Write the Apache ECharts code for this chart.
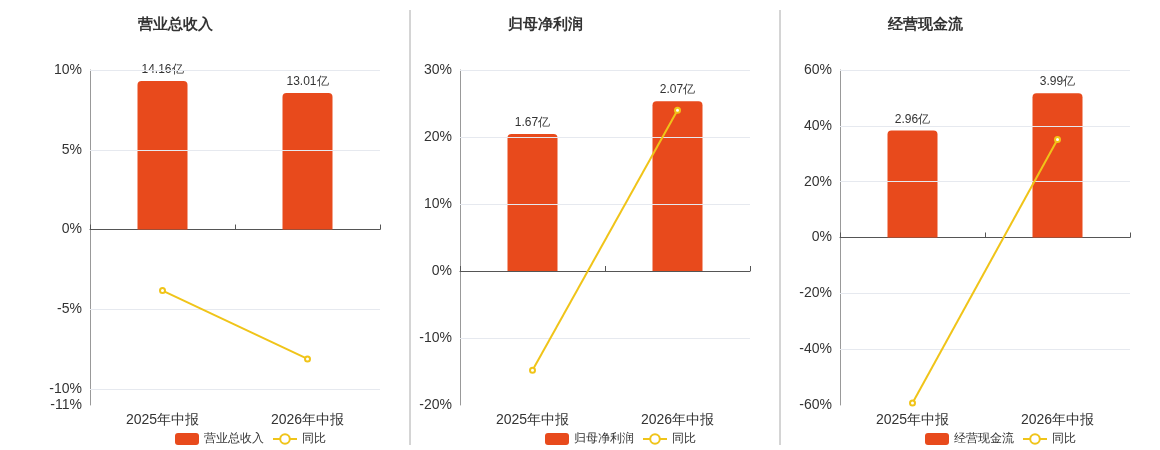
<!DOCTYPE html><html><head><meta charset="utf-8"><script src="https://cdn.jsdelivr.net/npm/echarts@6/dist/echarts.min.js"></script></head><body style="margin:0"><div id="c" style="width:1160px;height:450px"></div><script>
const categories=['2025年中报','2026年中报'];
const titles=['营业总收入','归母净利润','经营现金流'];
const barValues=[[14.16,13.01],[1.67,2.07],[2.96,3.99]];
const yoyValues=[[-3.83,-8.11],[-14.8,24.0],[-59.3,35.1]];
const pctMin=[-11,-20,-60], pctMax=[10,30,60], pctStep=[5,10,20];
const pctLabels=[[-11,-10,-5,0,5,10],[-20,-10,0,10,20,30],[-60,-40,-20,0,20,40,60]];
const barTopAt=[15.2,2.45,4.63];
const lefts=[90,460,840];
const grid=[],xAxis=[],yAxis=[],series=[],title=[],legend=[];
for(let i=0;i<3;i++){
 grid.push({left:lefts[i],width:290,top:70,height:335});
 title.push({text:titles[i],left:lefts[i]-90+170,top:12,textAlign:'center',textStyle:{fontSize:15,fontWeight:'bold',color:'#333'}});
 xAxis.push({type:'category',gridIndex:i,data:categories,axisLine:{onZero:false,show:false},axisTick:{show:false},axisLabel:{fontSize:14,color:'#333',margin:8}});
 xAxis.push({type:'category',gridIndex:i,data:categories,axisLine:{onZero:true,onZeroAxisIndex:i*2,lineStyle:{color:'#555'}},axisTick:{show:true,lineStyle:{color:'#555'}},axisLabel:{show:false}});
 const gl=pctLabels[i].filter(v=>v!==0&&v!==pctMin[i]);
 yAxis.push({type:'value',gridIndex:i,min:pctMin[i],max:pctMax[i],
  axisLine:{show:true,lineStyle:{color:'#999'}},axisTick:{show:false},splitLine:{show:false},
  axisLabel:{customValues:pctLabels[i],formatter:'{value}%',fontSize:14,color:'#333'}});
 const bmax=barTopAt[i];
 yAxis.push({type:'value',gridIndex:i,min:bmax*pctMin[i]/pctMax[i],max:bmax,show:false,splitLine:{show:false}});
 series.push({name:titles[i],type:'bar',xAxisIndex:i*2,yAxisIndex:i*2+1,data:barValues[i],barWidth:50,
  itemStyle:{color:'#e84a1c',borderRadius:[4,4,0,0]},
  label:{show:true,position:'top',formatter:p=>p.value.toFixed(2)+'亿',color:'#333',fontSize:12}});
 series.push({name:'同比',type:'line',xAxisIndex:i*2,yAxisIndex:i*2,data:yoyValues[i],symbol:'emptyCircle',symbolSize:5,
  itemStyle:{color:'#f0c419'},lineStyle:{color:'#f0c419',width:2},z:5,
  markLine:{silent:true,symbol:'none',label:{show:false},lineStyle:{color:'#e6e9ef',type:'solid',width:1},data:gl.map(v=>({yAxis:v}))}});
 legend.push({left:lefts[i]-90+170,top:428,orient:'horizontal',itemWidth:24,itemHeight:12,textStyle:{fontSize:12,color:'#333'},
  data:[{name:titles[i],icon:'roundRect'},{name:'同比'}],align:'left'});
}
const c=echarts.init(document.getElementById('c'));
c.setOption({animation:false,title,grid,xAxis,yAxis,series,legend,
 graphic:[{type:'line',shape:{x1:410,y1:10,x2:410,y2:445},style:{stroke:'#aaa'}},{type:'line',shape:{x1:780,y1:10,x2:780,y2:445},style:{stroke:'#aaa'}}]});
// center legends
const opt=c.getOption();
</script></body></html>
